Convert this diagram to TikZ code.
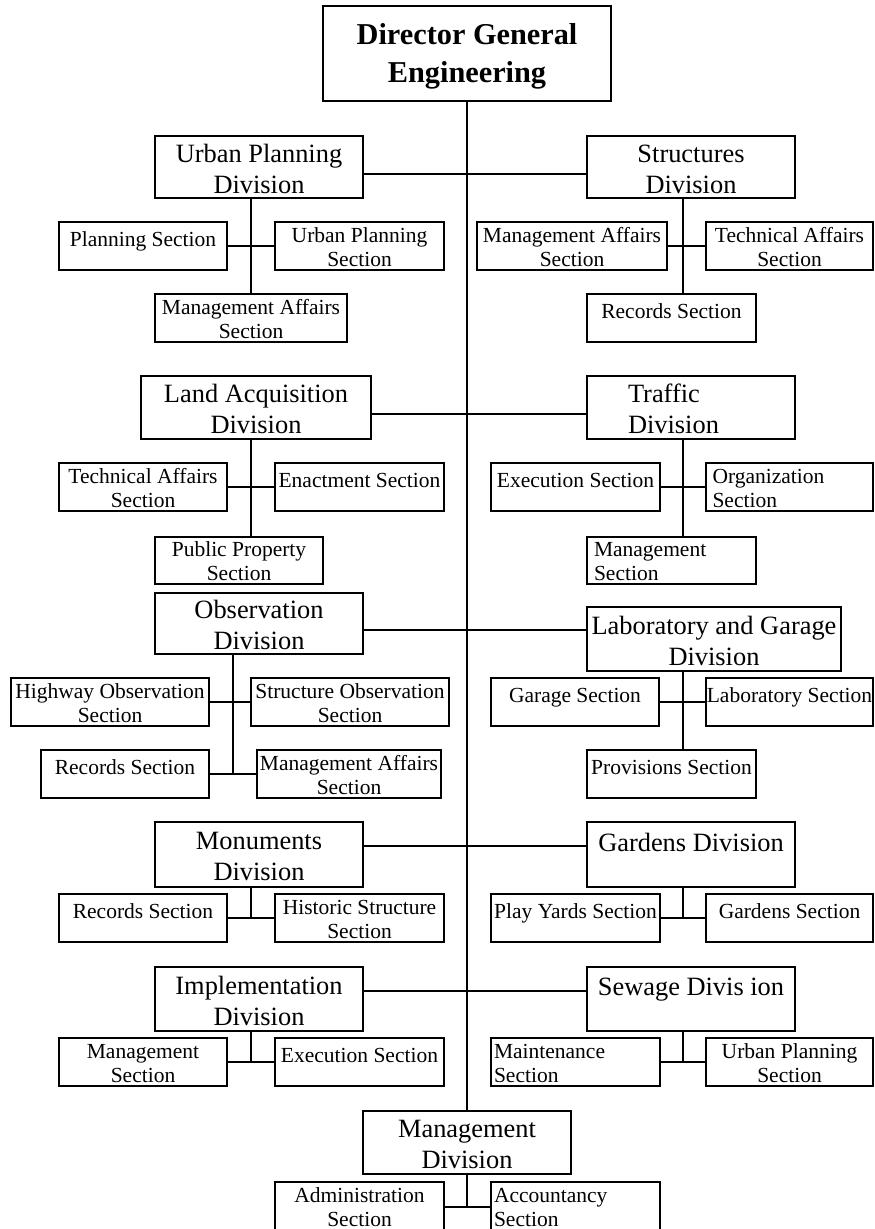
\documentclass[tikz,border=0pt]{standalone}
\usepackage{fontspec}
\setmainfont{Liberation Serif}
% a framed box given by its two opposite corners
\newcommand\chartbox[7]{%
  \pgfmathsetmacro\cbw{#5-#3}\pgfmathsetmacro\cbh{#6-#4}%
  \pgfmathsetmacro\cbx{(#3+#5)/2}\pgfmathsetmacro\cby{(#4+#6)/2}%
  \node[#1, minimum width=\cbw pt, minimum height=\cbh pt] (#2) at (\cbx,\cby) {#7};}
% box texts: two lines, or one line kept in the upper half of the box
\newcommand\twosec[2]{\rule{0pt}{16.2pt}#1\\#2}
\newcommand\twosecup[2]{\rule{0pt}{11.8pt}#1\\#2}
\newcommand\onesec[1]{\rule{0pt}{16.2pt}#1\rule[-16.2pt]{0pt}{0pt}}
\newcommand\twodiv[2]{\rule{0pt}{21.4pt}#1\\#2}
\newcommand\onediv[1]{\rule{0pt}{21.4pt}#1\rule[-28pt]{0pt}{0pt}}
\begin{document}
\begin{tikzpicture}[x=1pt,y=-1pt,
  box/.style={draw, line width=1.7pt, inner sep=0pt, align=center},
  sect/.style={box, font=\fontsize{21.5}{24}\selectfont},
  divn/.style={box, font=\fontsize{26.4}{31}\selectfont},
  head/.style={box, font=\fontsize{30.3}{37.5}\selectfont\bfseries},
  link/.style={line width=1.7pt}]
\useasboundingbox (0,0) rectangle (875,1229);

% top of the chart
\chartbox{head}{dg}{323}{6}{611}{101}{\rule{0pt}{27pt}Director General\\Engineering}

% row 1
\chartbox{divn}{upd}{155}{136}{363}{198}{\twodiv{Urban Planning}{Division}}
\chartbox{divn}{sd}{587}{136}{795}{198}{\twodiv{Structures}{Division}}
\chartbox{sect}{ps}{59}{222}{227}{270}{\onesec{Planning Section}}
\chartbox{sect}{ups1}{275}{222}{444}{270}{\twosec{Urban Planning}{Section}}
\chartbox{sect}{mas1}{155}{294}{347}{342}{\twosec{Management Affairs}{Section}}
\chartbox{sect}{mas2}{477}{222}{667}{270}{\twosec{Management Affairs}{Section}}
\chartbox{sect}{tas1}{706}{222}{873}{270}{\twosec{Technical Affairs}{Section}}
\chartbox{sect}{rs1}{587}{294}{756}{342}{\onesec{Records Section}}

% row 2
\chartbox{divn}{lad}{141}{376}{371}{439}{\twodiv{Land Acquisition}{Division}}
\chartbox{divn, text width=126pt, align=left}{td}{587}{376}{795}{439}{\twodiv{Traffic}{Division}}
\chartbox{sect}{tas2}{59}{463}{227}{511}{\twosec{Technical Affairs}{Section}}
\chartbox{sect}{ens}{275}{463}{444}{511}{\onesec{Enactment Section}}
\chartbox{sect}{exs1}{491}{463}{660}{511}{\onesec{Execution Section}}
\chartbox{sect, text width=154pt, align=left}{ogs}{706}{463}{873}{511}{\twosec{Organization}{Section}}
\chartbox{sect}{pps}{155}{537}{323}{584}{\twosec{Public Property}{Section}}
\chartbox{sect, text width=155pt, align=left}{ms1}{587}{537}{756}{584}{\twosec{Management}{Section}}

% row 3
\chartbox{divn}{obd}{155}{593}{363}{654}{\twodiv{Observation}{Division}}
\chartbox{divn}{lgd}{587}{607}{841}{671}{\twodiv{Laboratory and Garage}{Division}}
\chartbox{sect}{hos}{11}{678}{209}{726}{\twosec{Highway Observation}{Section}}
\chartbox{sect}{sos}{251}{678}{449}{726}{\twosec{Structure Observation}{Section}}
\chartbox{sect}{rs2}{41}{750}{209}{798}{\onesec{Records Section}}
\chartbox{sect}{mas3}{257}{750}{441}{798}{\twosec{Management Affairs}{Section}}
\chartbox{sect}{gas}{491}{678}{659}{726}{\onesec{Garage Section}}
\chartbox{sect}{lbs}{706}{678}{873}{726}{\onesec{Laboratory Section}}
\chartbox{sect}{prs}{587}{750}{756}{798}{\onesec{Provisions Section}}

% row 4
\chartbox{divn}{mnd}{155}{822}{363}{887}{\twodiv{Monuments}{Division}}
\chartbox{divn}{gdd}{587}{822}{795}{887}{\onediv{Gardens Division}}
\chartbox{sect}{rs3}{59}{894}{227}{942}{\onesec{Records Section}}
\chartbox{sect}{hss}{275}{894}{444}{942}{\twosec{Historic Structure}{Section}}
\chartbox{sect}{pys}{491}{894}{660}{942}{\onesec{Play Yards Section}}
\chartbox{sect}{gds}{706}{894}{873}{942}{\onesec{Gardens Section}}

% row 5
\chartbox{divn}{imd}{155}{967}{363}{1031}{\twodiv{Implementation}{Division}}
\chartbox{divn}{swd}{587}{967}{795}{1031}{\onediv{Sewage Divis ion}}
\chartbox{sect}{ms2}{59}{1038}{227}{1086}{\twosec{Management}{Section}}
\chartbox{sect}{exs2}{275}{1038}{444}{1086}{\onesec{Execution Section}}
\chartbox{sect, text width=163pt, align=left}{mts}{491}{1038}{660}{1086}{\twosec{Maintenance}{Section}}
\chartbox{sect}{ups2}{706}{1038}{873}{1086}{\twosec{Urban Planning}{Section}}

% bottom
\chartbox{divn}{mgd}{363}{1111}{571}{1174}{\twodiv{Management}{Division}}
\chartbox{sect}{ads}{275}{1182}{444}{1232}{\twosecup{Administration}{Section}}
\chartbox{sect, text width=163pt, align=left}{acs}{491}{1182}{660}{1232}{\twosecup{Accountancy}{Section}}

% levels of the division links and the branch lines
\coordinate (ra) at (0,174);
\coordinate (rb) at (0,414);
\coordinate (rc) at (0,630);
\coordinate (rd) at (0,846);
\coordinate (re) at (0,991);
\coordinate (xl) at (251,0);
\coordinate (xo) at (233,0);
\coordinate (xr) at (683,0);

% trunk
\draw[link] (dg.south) -- (mgd.north);

% division links
\draw[link] (upd.east |- ra) -- (sd.west |- ra);
\draw[link] (lad.east |- rb) -- (td.west |- rb);
\draw[link] (obd.east |- rc) -- (lgd.west |- rc);
\draw[link] (mnd.east |- rd) -- (gdd.west |- rd);
\draw[link] (imd.east |- re) -- (swd.west |- re);

% sections
\draw[link] (upd.south -| xl) -- (mas1.north -| xl);
\draw[link] (ps.east) -- (ups1.west);
\draw[link] (sd.south -| xr) -- (rs1.north -| xr);
\draw[link] (mas2.east) -- (tas1.west);

\draw[link] (lad.south -| xl) -- (pps.north -| xl);
\draw[link] (tas2.east) -- (ens.west);
\draw[link] (td.south -| xr) -- (ms1.north -| xr);
\draw[link] (exs1.east) -- (ogs.west);

\draw[link] (obd.south -| xo) -- (rs2.east -| xo);
\draw[link] (hos.east) -- (sos.west);
\draw[link] (rs2.east) -- (mas3.west);
\draw[link] (lgd.south -| xr) -- (prs.north -| xr);
\draw[link] (gas.east) -- (lbs.west);

\draw[link] (mnd.south -| xl) -- (rs3.east -| xl);
\draw[link] (rs3.east) -- (hss.west);
\draw[link] (gdd.south -| xr) -- (pys.east -| xr);
\draw[link] (pys.east) -- (gds.west);

\draw[link] (imd.south -| xl) -- (ms2.east -| xl);
\draw[link] (ms2.east) -- (exs2.west);
\draw[link] (swd.south -| xr) -- (mts.east -| xr);
\draw[link] (mts.east) -- (ups2.west);

\draw[link] (mgd.south) -- (ads.east -| mgd.south);
\draw[link] (ads.east) -- (acs.west);
\end{tikzpicture}
\end{document}
